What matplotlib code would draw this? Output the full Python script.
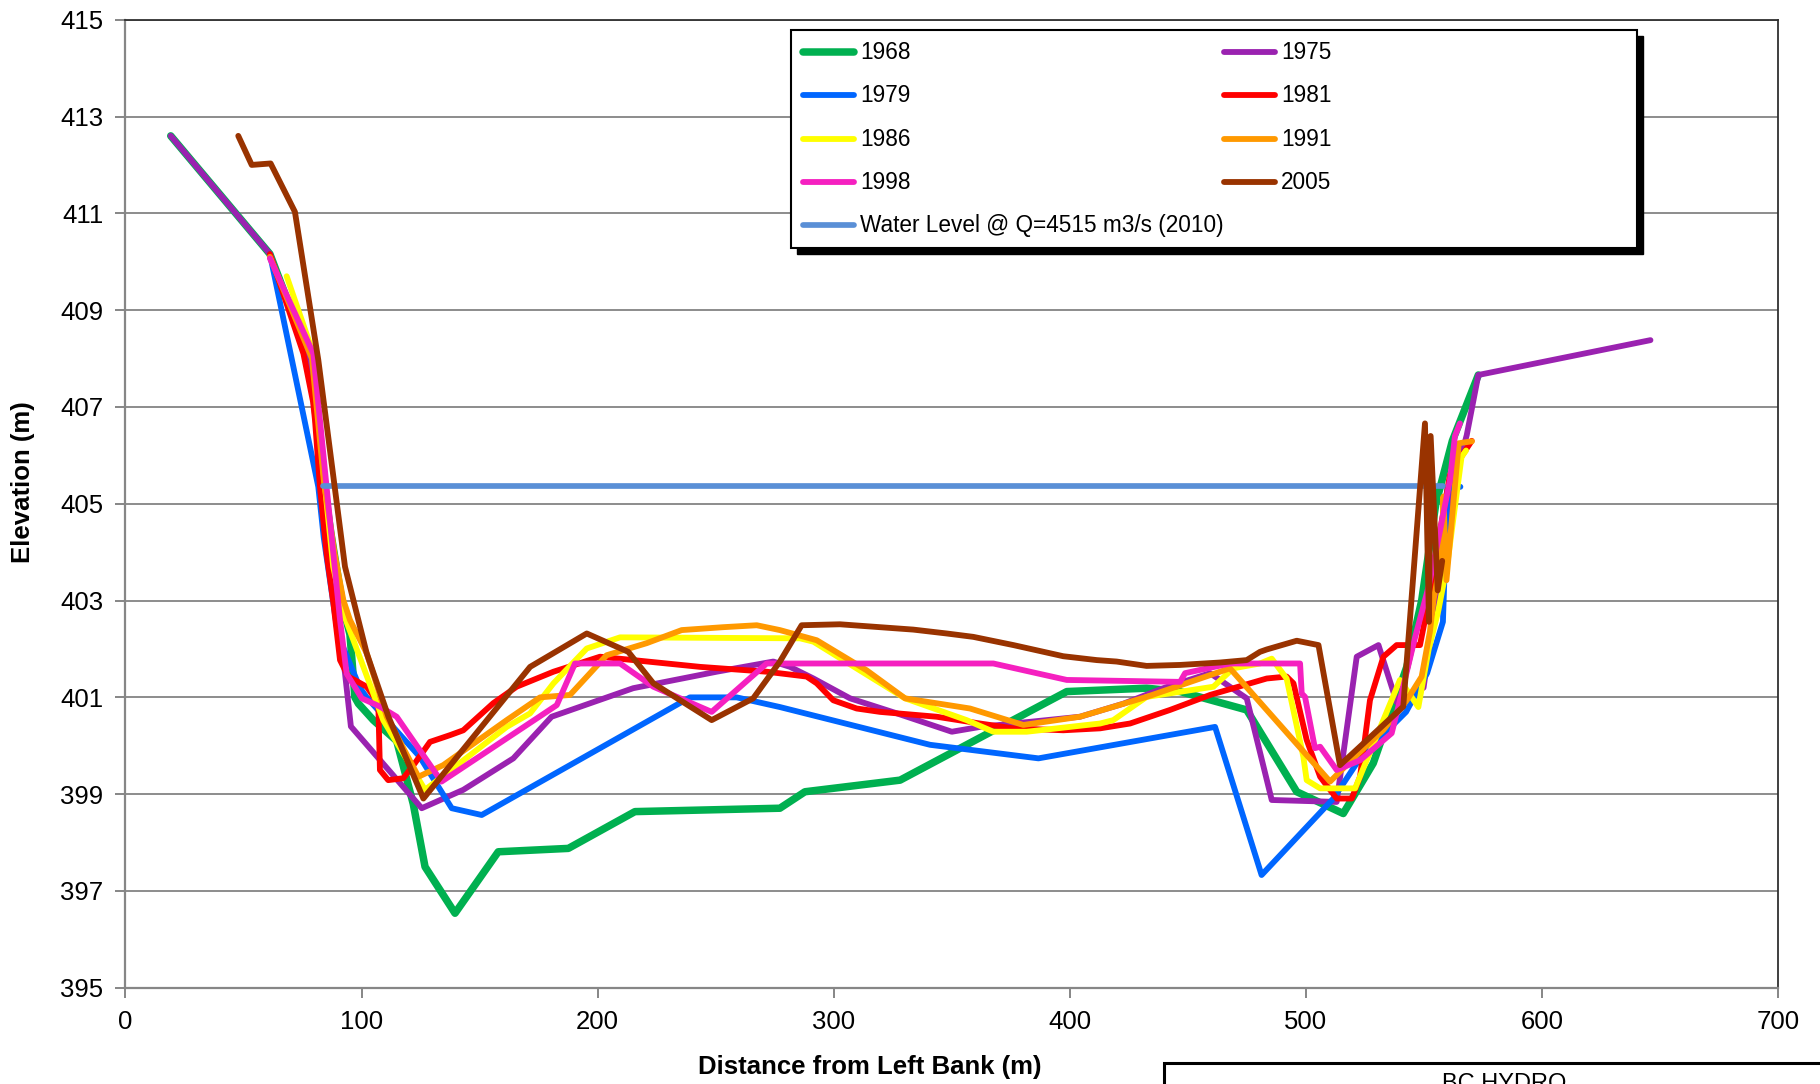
import matplotlib
matplotlib.use("Agg")
import matplotlib.pyplot as plt
from matplotlib.lines import Line2D
from matplotlib.patches import Rectangle

FONT = ['Liberation Sans', 'DejaVu Sans']

# cross-section surveys: distance from left bank (m), elevation (m)
x_1968 = [19.2, 61.2, 78, 83, 87, 92, 95.1, 97.2, 98.7, 105, 114.9, 121.9, 126.9, 139.6, 157.9, 187.6,
          215.8, 277.2, 287.8, 328.1, 398.7, 432.5, 446.7, 474.9, 496.1, 515.8, 528.5, 542.7, 549,
          555, 562, 573]
y_1968 = [412.6, 410.16, 408.0, 405.8, 404.4, 402.9, 402.3, 401.0, 400.87, 400.53, 400.1, 398.8, 397.5,
          396.54, 397.81, 397.88, 398.64, 398.71, 399.05, 399.29, 401.12, 401.19, 401.12, 400.74, 399.05,
          398.6, 399.64, 401.63, 403.0, 405.0, 406.3, 407.66]

x_1975 = [19.2, 61.2, 80, 86, 90, 93, 95.5, 125.5, 143.1, 164.3, 180.5, 215.1, 250.4, 274.4, 281.5,
          291.4, 306.9, 326.7, 350, 362, 404.3, 422.7, 439.6, 459.4, 474.9, 485.5, 513, 521.5, 530.7,
          538.4, 549.8, 556, 562, 568.1, 573, 645.9]
y_1975 = [412.6, 410.16, 407.6, 404.6, 402.6, 401.5, 400.4, 398.71, 399.09, 399.74, 400.6, 401.19,
          401.53, 401.74, 401.63, 401.39, 400.98, 400.67, 400.29, 400.39, 400.6, 400.87, 401.19, 401.5,
          400.98, 398.88, 398.84, 401.84, 402.08, 400.9, 401.2, 403.3, 405.3, 406.42, 407.66, 408.38]

x_1979 = [61.2, 81.7, 84, 90, 99.3, 102.2, 124.7, 138.2, 150.9, 239.1, 258.9, 277.2, 340.8, 386.7,
          461.5, 481.2, 511.6, 521.5, 534.2, 542.4, 551.3, 558, 559.9, 565.4]
y_1979 = [410.16, 405.35, 404.3, 402.3, 401.2, 401.0, 399.77, 398.71, 398.57, 401.0, 401.0, 400.8,
          400.02, 399.74, 400.39, 397.33, 398.91, 399.64, 400.3, 400.7, 401.5, 402.56, 405.31, 405.35]

x_1981 = [61.2, 75.4, 79.5, 80.3, 82.4, 85.2, 88.1, 90.9, 94.4, 102.2, 107.1, 107.8, 111.3, 117.7, 122.6,
          129, 137.5, 143.1, 155.8, 165.7, 181.3, 201, 215.1, 243.4, 271.6, 288.5, 292.8, 299.8, 309.7,
          319.6, 343.6, 361.9, 376.1, 397.2, 412.8, 425.5, 442.4, 459.4, 483.4, 491.8, 494.7, 500.3,
          506, 513, 519.4, 522.9, 527.1, 532.8, 538.4, 548.3, 552, 557, 561, 566.7, 570.2]
y_1981 = [410.16, 408.1, 407.1, 406.73, 405.35, 403.97, 402.94, 401.77, 401.43, 401.22, 400.88, 399.5,
          399.29, 399.33, 399.64, 400.08, 400.22, 400.32, 400.88, 401.22, 401.53, 401.84, 401.77, 401.63,
          401.53, 401.43, 401.29, 400.94, 400.77, 400.7, 400.6, 400.46, 400.36, 400.32, 400.36, 400.46,
          400.74, 401.05, 401.39, 401.43, 401.29, 400.12, 399.36, 398.91, 398.91, 399.36, 400.94, 401.84,
          402.08, 402.08, 403.0, 404.5, 405.6, 406.04, 406.3]

x_1986 = [68.3, 79.6, 84, 88, 92.3, 109.2, 126.9, 161.5, 171.4, 181.3, 195.4, 209.5, 285.7, 291.4, 330.2,
          356.3, 367.6, 381.7, 412.8, 418.4, 432.5, 460.8, 469.2, 480.5, 485.5, 491.8, 498.9, 500.3, 506,
          520.8, 525.7, 539.8, 547.6, 552, 556.1, 560, 565.9, 567.8]
y_1986 = [409.7, 408.1, 405.6, 403.7, 402.74, 400.53, 399.09, 400.39, 400.67, 401.29, 402.01, 402.24,
          402.22, 402.15, 400.98, 400.53, 400.29, 400.29, 400.46, 400.53, 401.01, 401.22, 401.6, 401.7,
          401.8, 401.39, 399.77, 399.29, 399.12, 399.12, 399.7, 401.36, 400.8, 402.0, 402.8, 403.8,
          405.97, 406.1]

x_1991 = [61.2, 79, 84, 88.5, 92.3, 95.1, 102.2, 110.7, 124.1, 134.6, 161.5, 175.6, 188.3, 203.8, 220.8,
          235.6, 253.2, 267.4, 277.2, 292.8, 313.9, 330.2, 357.7, 380.3, 404.3, 432.5, 467.8, 510.2,
          521.5, 532.8, 542.7, 549, 552.5, 554, 557.5, 558.2, 559.5, 564.7, 570.3]
y_1991 = [410.1, 408.0, 405.5, 404.0, 403.01, 402.6, 401.91, 400.6, 399.36, 399.6, 400.53, 401.0, 401.05,
          401.87, 402.12, 402.39, 402.45, 402.49, 402.39, 402.18, 401.56, 400.98, 400.77, 400.43, 400.6,
          401.01, 401.6, 399.26, 399.81, 400.33, 400.94, 401.43, 402.36, 403.01, 403.9, 405.15, 403.42,
          406.25, 406.29]

x_1998 = [61.2, 79.6, 82.4, 85.2, 90.9, 93.7, 100.1, 107.8, 114.9, 133.9, 182.7, 190.4, 209.5, 223.6,
          248.3, 271.6, 367.6, 398.7, 446.7, 448.8, 467.8, 497.5, 498.2, 499.6, 503.8, 506, 513, 522.9,
          536.3, 539.8, 546, 552, 557, 561, 563.1, 565.2]
y_1998 = [410.07, 408.1, 406.73, 405.35, 402.6, 401.49, 400.98, 400.81, 400.6, 399.26, 400.84, 401.7,
          401.7, 401.22, 400.7, 401.7, 401.7, 401.36, 401.32, 401.5, 401.7, 401.7, 401.08, 401.01, 399.95,
          399.98, 399.5, 399.7, 400.26, 400.94, 402.2, 403.3, 404.5, 405.5, 406.4, 406.66]

x_2005 = [47.8, 53.5, 61.5, 71.8, 81.7, 93, 102.2, 111.4, 126.2, 171.4, 195.4, 213, 223.6, 248.3, 265.9,
          277.2, 286.4, 302.6, 333.7, 347.8, 359.1, 376.1, 397.2, 411.4, 419.8, 432.5, 446.7, 463.6,
          474.9, 480.5, 483.4, 496.1, 505.3, 514.4, 541.2, 550.4, 552.1, 552.8, 555.8, 557.7]
y_2005 = [412.6, 412.0, 412.03, 411.03, 407.97, 403.7, 401.91, 400.6, 398.91, 401.63, 402.32, 401.94,
          401.29, 400.53, 400.98, 401.74, 402.49, 402.51, 402.4, 402.32, 402.25, 402.08, 401.85, 401.77,
          401.74, 401.65, 401.67, 401.72, 401.77, 401.94, 401.99, 402.17, 402.08, 399.6, 400.81, 406.66,
          402.56, 406.4, 403.21, 403.82]

x_water = [83.8, 558.2]
y_water = [405.36, 405.36]

labels = ['1968', '1975', '1979', '1981', '1986', '1991', '1998', '2005',
          'Water Level @ Q=4515 m3/s (2010)']
colors = ['#00B050', '#9A22B0', '#0066FF', '#FF0000', '#FFFF00', '#FF9900', '#F520C0', '#993300',
          '#5A8FD6']
widths = [5.4, 4.2, 4.2, 4.2, 4.2, 4.2, 4.2, 4.2, 4.1]
xs = [x_1968, x_1975, x_1979, x_1981, x_1986, x_1991, x_1998, x_2005, x_water]
ys = [y_1968, y_1975, y_1979, y_1981, y_1986, y_1991, y_1998, y_2005, y_water]
zorders = [2, 3, 4, 5, 6, 7, 8, 10, 9]

W, H = 1820, 1084
fig = plt.figure(figsize=(W / 100, H / 100), dpi=100)


def fx(px):
    return px / W


def fy(py):
    return 1 - py / H


ax = fig.add_axes([fx(125.4), fy(987.8), fx(1778.2) - fx(125.4), fy(19.7) - fy(987.8)])

for x, y, c, lw, z in zip(xs, ys, colors, widths, zorders):
    ax.plot(x, y, color=c, lw=lw, zorder=z, solid_joinstyle='round', solid_capstyle='round')

ax.set_xlim(0, 700)
ax.set_ylim(395, 415)
ax.set_xticks(range(0, 701, 100))
ax.set_yticks(range(395, 416, 2))
ax.yaxis.grid(True, color='#8c8c8c', lw=1.4, zorder=0)
ax.set_axisbelow(True)
for s in ['left', 'bottom']:
    ax.spines[s].set_color('#868686')
    ax.spines[s].set_linewidth(1.6)
for s in ['top', 'right']:
    ax.spines[s].set_color('#303030')
    ax.spines[s].set_linewidth(1.3)
ax.tick_params(axis='both', direction='out', length=7, width=1.4, color='#868686',
               labelsize=18.5, pad=9)
for lab in ax.get_xticklabels() + ax.get_yticklabels():
    lab.set_family(FONT)

fig.text(fx(870), fy(1067), 'Distance from Left Bank (m)', ha='center', va='center',
         fontsize=18.5, fontweight='bold', family=FONT)
fig.text(fx(23), fy(482), 'Elevation (m)', ha='center', va='center', rotation=90,
         fontsize=18.5, fontweight='bold', family=FONT)

# legend box with shadow
lx0, ly0, lx1, ly1 = 790.5, 30.2, 1636.6, 248.4
fig.add_artist(Rectangle((fx(lx0 + 6), fy(ly1 + 6)), fx(lx1) - fx(lx0), fy(ly0) - fy(ly1),
                         transform=fig.transFigure, facecolor='black', edgecolor='black', zorder=20))
fig.add_artist(Rectangle((fx(lx0), fy(ly1)), fx(lx1) - fx(lx0), fy(ly0) - fy(ly1),
                         transform=fig.transFigure, facecolor='white', edgecolor='black', lw=1.5,
                         zorder=21))
rows = [52.2, 95.2, 139.3, 182.2, 225.2]
cols = [801, 1222]
for i, (lab, c, lw) in enumerate(zip(labels, colors, widths)):
    if i == 8:
        r, k = 4, 0
    else:
        r, k = i // 2, i % 2
    hx = cols[k]
    hy = rows[r]
    fig.add_artist(Line2D([fx(hx + 2), fx(hx + 53)], [fy(hy), fy(hy)], transform=fig.transFigure,
                          color=c, lw=lw, solid_capstyle='round', zorder=22))
    fig.text(fx(hx + 59), fy(hy), lab, ha='left', va='center', fontsize=16.3, family=FONT,
             zorder=23)

# title block, cut off at the bottom edge as in the source
fig.add_artist(Rectangle((fx(1164), fy(1120)), fx(700), fy(1063) - fy(1120),
                         transform=fig.transFigure, facecolor='white', edgecolor='black', lw=2.2,
                         clip_on=False, zorder=20))
fig.text(fx(1504), fy(1073), 'BC HYDRO', ha='center', va='top', fontsize=17, family=FONT,
         zorder=21)

fig.savefig('out.png', dpi=100)
